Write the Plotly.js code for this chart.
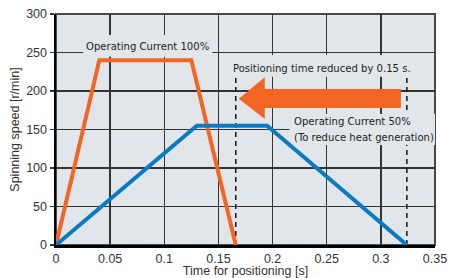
<!DOCTYPE html>
<html><head><meta charset="utf-8">
<script src="https://cdn.plot.ly/plotly-3.0.1.min.js"></script>
<style>html,body{margin:0;padding:0;background:#fff;}#chart{width:463px;height:278px;}</style>
</head><body><div id="chart"></div>
<script>
// Data
const time100 = [0, 0.04, 0.125, 0.166];
const speed100 = [0, 240, 240, 0];
const time50 = [0, 0.13, 0.195, 0.324];
const speed50 = [0, 155, 155, 0];
const xTicks = [0, 0.05, 0.1, 0.15, 0.2, 0.25, 0.3, 0.35];
const xTickText = ['0', '0.05', '0.1', '0.15', '0.2', '0.25', '0.3', '0.35'];
const yTicks = [0, 50, 100, 150, 200, 250, 300];
const endTimes = [time100[time100.length - 1], time50[time50.length - 1]];
const label100 = 'Operating Current 100%';
const label50a = 'Operating Current 50%';
const label50b = '(To reduce heat generation)';
const labelReduced = 'Positioning time reduced by 0.15 s.';

const BG = '#e1e6ea';
const ORANGE = '#f26522';
const BLUE = '#0a7ac2';
const narrow = '"DejaVu Sans Condensed", "Liberation Sans Narrow", sans-serif';
const sans = '"Liberation Sans", Arial, Helvetica, sans-serif';

const traces = [
  {x: time100, y: speed100, type: 'scatter', mode: 'lines', line: {color: ORANGE, width: 4}, hoverinfo: 'skip'},
  {x: time50, y: speed50, type: 'scatter', mode: 'lines', line: {color: BLUE, width: 4}, hoverinfo: 'skip'}
];

const shapes = [];
shapes.push({type: 'rect', xref: 'paper', yref: 'paper', x0: 0, x1: 1, y0: 0, y1: 1,
  line: {color: '#4a4a4a', width: 2}, fillcolor: 'rgba(0,0,0,0)', layer: 'below'});
// dashed end-time markers (above grid, below label backgrounds)
endTimes.forEach(t => shapes.push({type: 'line', xref: 'x', yref: 'y', x0: t, x1: t, y0: 0, y1: 218,
  line: {color: '#111', width: 1.5, dash: '5px,4px'}, layer: 'between'}));
// label backgrounds that mask the grid (above grid, below data)
[[0.025, 0.1444, 244.5, 272.7], [0.1574, 0.3324, 218.5, 246.6], [0.2157, 0.35, 129.9, 170.1]].forEach(b =>
  shapes.push({type: 'rect', xref: 'x', yref: 'y', x0: b[0], x1: b[1], y0: b[2], y1: b[3],
    fillcolor: BG, line: {width: 0}, layer: 'between'}));
const tip = endTimes[0] + 0.0028, tail = endTimes[1] - 0.0055, hb = tip + 0.024;
shapes.push({type: 'path', xref: 'x', yref: 'y',
  path: `M ${tip},190 L ${hb},218 L ${hb},202.6 L ${tail},202.6 L ${tail},178 L ${hb},178 L ${hb},163.6 Z`,
  fillcolor: ORANGE, line: {width: 0}, layer: 'above'});

const annFont = {family: narrow, size: 11.2, color: '#222'};
const annotations = [
  {x: 0.0847, y: 257.8, text: label100, xanchor: 'center'},
  {x: 0.2454, y: 228.6, text: labelReduced, xanchor: 'center'},
  {x: 0.2185, y: 161, text: label50a, xanchor: 'left'},
  {x: 0.2185, y: 139.4, text: label50b, xanchor: 'left'}
].map(a => Object.assign({xref: 'x', yref: 'y', showarrow: false, yanchor: 'middle', font: annFont, borderpad: 0}, a));

const layout = {
  width: 463, height: 278,
  margin: {l: 56, r: 28, t: 14, b: 33, pad: 0},
  paper_bgcolor: '#ffffff', plot_bgcolor: BG,
  showlegend: false,
  font: {family: sans, size: 12.5, color: '#333'},
  xaxis: {
    range: [0, 0.35], tickvals: xTicks, ticktext: xTickText,
    showgrid: true, gridcolor: '#333', gridwidth: 1.5,
    showline: true, linecolor: '#000', linewidth: 2.5,
    ticks: '', zeroline: false, fixedrange: true,
    tickfont: {family: sans, size: 12.5, color: '#333'},
    title: {text: 'Time for positioning [s]', font: {family: sans, size: 12.5, color: '#333'}, standoff: 3}
  },
  yaxis: {
    range: [0, 300], tickvals: yTicks,
    showgrid: true, gridcolor: '#333', gridwidth: 1.5,
    showline: true, linecolor: '#000', linewidth: 2.5,
    ticks: 'outside', ticklen: 4, tickcolor: '#333', tickwidth: 1.5,
    zeroline: false, fixedrange: true,
    tickfont: {family: sans, size: 12.5, color: '#333'},
    title: {text: 'Spinning speed [r/min]', font: {family: sans, size: 12.5, color: '#333'}, standoff: 4}
  },
  shapes: shapes,
  annotations: annotations
};

Plotly.newPlot('chart', traces, layout, {staticPlot: true, displayModeBar: false});
</script>
</body></html>
